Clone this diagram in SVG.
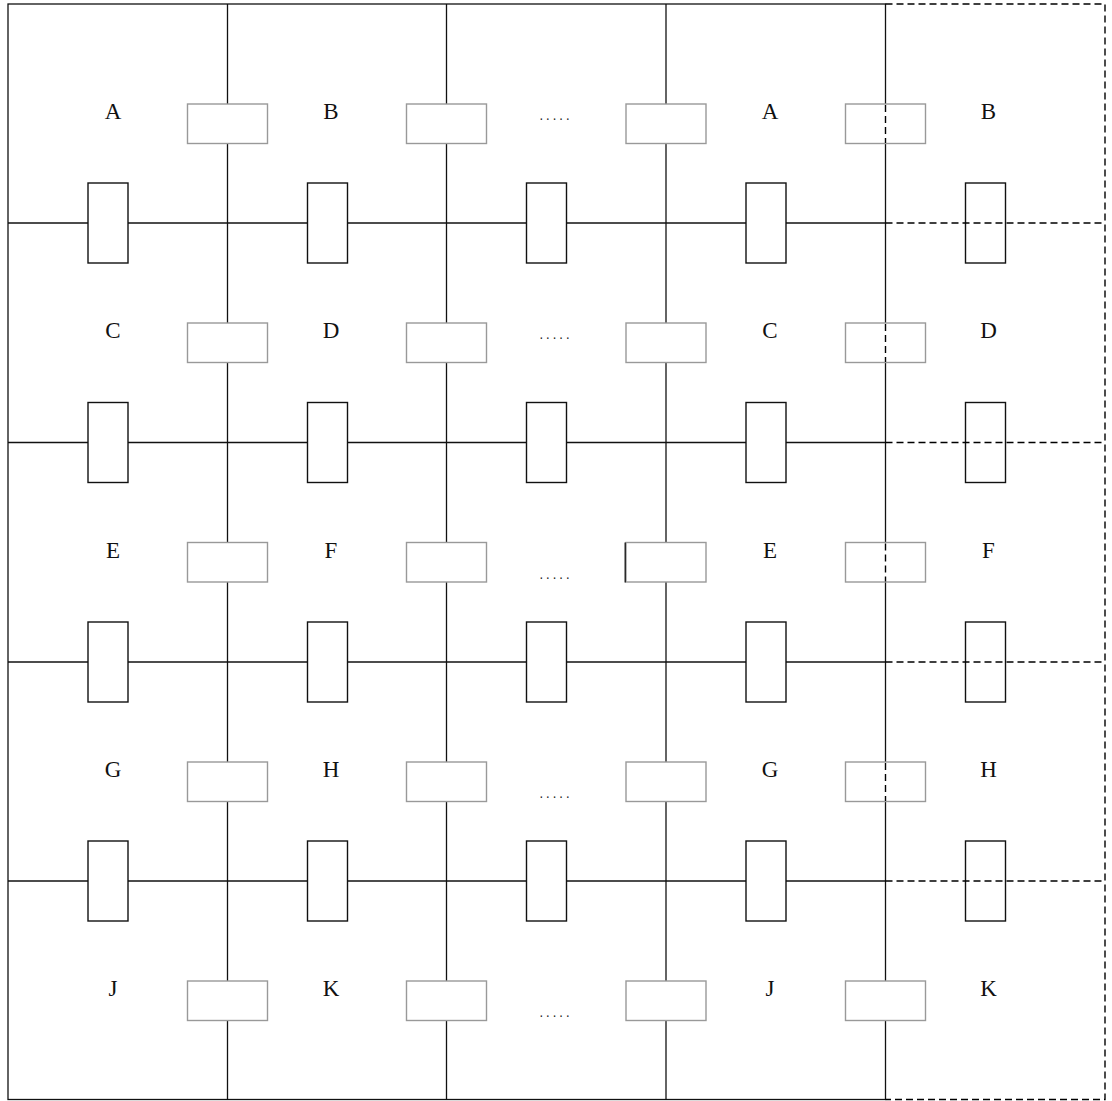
<svg xmlns="http://www.w3.org/2000/svg" width="1112" height="1101" viewBox="0 0 1112 1101">
<style>
.ln{stroke:#111;stroke-width:1.3;fill:none}
.dash{stroke:#000;stroke-width:1.4;fill:none;stroke-dasharray:7 4}
.g{fill:#fff;stroke:#999;stroke-width:1.4}
.b{fill:#fff;stroke:#111;stroke-width:1.4}
.t{font-family:"Liberation Serif","Times New Roman",serif;font-size:23px;fill:#111;text-anchor:middle}
.d{font-family:"Liberation Mono","Courier New",monospace;font-size:11px;fill:#222;text-anchor:middle}
</style>
<rect width="1112" height="1101" fill="#fff"/>
<g id="connectors">
<rect class="ln" x="8" y="4" width="877.5" height="1095.5"/>
<line class="ln" x1="227.5" y1="4" x2="227.5" y2="1099.5"/>
<line class="ln" x1="446.5" y1="4" x2="446.5" y2="1099.5"/>
<line class="ln" x1="666" y1="4" x2="666" y2="1099.5"/>
<line class="ln" x1="8" y1="223" x2="885.5" y2="223"/>
<line class="ln" x1="8" y1="442.5" x2="885.5" y2="442.5"/>
<line class="ln" x1="8" y1="662" x2="885.5" y2="662"/>
<line class="ln" x1="8" y1="881" x2="885.5" y2="881"/>
</g>
<g id="gray-boxes">
<g id="g-r1"><rect class="g" x="187.5" y="104" width="80" height="39.5"/><rect class="g" x="406.5" y="104" width="80" height="39.5"/><rect class="g" x="626" y="104" width="80" height="39.5"/><rect class="g" x="845.5" y="104" width="80" height="39.5"/></g>
<g id="g-r2"><rect class="g" x="187.5" y="323" width="80" height="39.5"/><rect class="g" x="406.5" y="323" width="80" height="39.5"/><rect class="g" x="626" y="323" width="80" height="39.5"/><rect class="g" x="845.5" y="323" width="80" height="39.5"/></g>
<g id="g-r3"><rect class="g" x="187.5" y="542.5" width="80" height="39.5"/><rect class="g" x="406.5" y="542.5" width="80" height="39.5"/><rect class="g" x="626" y="542.5" width="80" height="39.5"/><line class="ln" x1="625.2" y1="542.5" x2="625.2" y2="582.5"/><rect class="g" x="845.5" y="542.5" width="80" height="39.5"/></g>
<g id="g-r4"><rect class="g" x="187.5" y="762" width="80" height="39.5"/><rect class="g" x="406.5" y="762" width="80" height="39.5"/><rect class="g" x="626" y="762" width="80" height="39.5"/><rect class="g" x="845.5" y="762" width="80" height="39.5"/></g>
<g id="g-r5"><rect class="g" x="187.5" y="981" width="80" height="39.5"/><rect class="g" x="406.5" y="981" width="80" height="39.5"/><rect class="g" x="626" y="981" width="80" height="39.5"/><rect class="g" x="845.5" y="981" width="80" height="39.5"/></g>
</g>
<g id="black-boxes">
<g id="b-r1"><rect class="b" x="88" y="183" width="40" height="80"/><rect class="b" x="307.5" y="183" width="40" height="80"/><rect class="b" x="526.5" y="183" width="40" height="80"/><rect class="b" x="746" y="183" width="40" height="80"/><rect class="b" x="965.5" y="183" width="40" height="80"/></g>
<g id="b-r2"><rect class="b" x="88" y="402.5" width="40" height="80"/><rect class="b" x="307.5" y="402.5" width="40" height="80"/><rect class="b" x="526.5" y="402.5" width="40" height="80"/><rect class="b" x="746" y="402.5" width="40" height="80"/><rect class="b" x="965.5" y="402.5" width="40" height="80"/></g>
<g id="b-r3"><rect class="b" x="88" y="622" width="40" height="80"/><rect class="b" x="307.5" y="622" width="40" height="80"/><rect class="b" x="526.5" y="622" width="40" height="80"/><rect class="b" x="746" y="622" width="40" height="80"/><rect class="b" x="965.5" y="622" width="40" height="80"/></g>
<g id="b-r4"><rect class="b" x="88" y="841" width="40" height="80"/><rect class="b" x="307.5" y="841" width="40" height="80"/><rect class="b" x="526.5" y="841" width="40" height="80"/><rect class="b" x="746" y="841" width="40" height="80"/><rect class="b" x="965.5" y="841" width="40" height="80"/></g>
</g>
<g id="dashed-column">
<path class="dash" d="M885.5 4H1105V1099.5H885.5"/>
<line class="dash" x1="885.5" y1="105" x2="885.5" y2="143"/>
<line class="dash" x1="885.5" y1="324" x2="885.5" y2="362"/>
<line class="dash" x1="885.5" y1="543.5" x2="885.5" y2="581.5"/>
<line class="dash" x1="885.5" y1="763" x2="885.5" y2="801"/>
<line class="dash" x1="885.5" y1="223" x2="1105" y2="223"/>
<line class="dash" x1="885.5" y1="442.5" x2="1105" y2="442.5"/>
<line class="dash" x1="885.5" y1="662" x2="1105" y2="662"/>
<line class="dash" x1="885.5" y1="881" x2="1105" y2="881"/>
</g>
<g id="labels">
<g id="row1"><text class="t" x="113" y="119">A</text><text class="t" x="331" y="119">B</text><text class="d" x="554.5" y="119.5">.....</text><text class="t" x="770" y="119">A</text><text class="t" x="988.5" y="119">B</text></g>
<g id="row2"><text class="t" x="113" y="338">C</text><text class="t" x="331" y="338">D</text><text class="d" x="554.5" y="339">.....</text><text class="t" x="770" y="338">C</text><text class="t" x="988.5" y="338">D</text></g>
<g id="row3"><text class="t" x="113" y="557.5">E</text><text class="t" x="331" y="557.5">F</text><text class="d" x="554.5" y="578.5">.....</text><text class="t" x="770" y="557.5">E</text><text class="t" x="988.5" y="557.5">F</text></g>
<g id="row4"><text class="t" x="113" y="777">G</text><text class="t" x="331" y="777">H</text><text class="d" x="554.5" y="797.5">.....</text><text class="t" x="770" y="777">G</text><text class="t" x="988.5" y="777">H</text></g>
<g id="row5"><text class="t" x="113" y="996">J</text><text class="t" x="331" y="996">K</text><text class="d" x="554.5" y="1016.5">.....</text><text class="t" x="770" y="996">J</text><text class="t" x="988.5" y="996">K</text></g>
</g>
</svg>
